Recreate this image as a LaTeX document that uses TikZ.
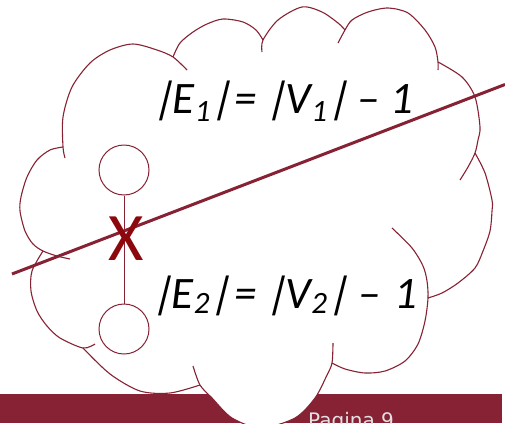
\documentclass[tikz,border=0pt]{standalone}
\usepackage{fontspec}
\newfontfamily\eqfont{Carlito}
\newfontfamily\barfont[FakeSlant=0.25]{Carlito}
\newfontfamily\pagefont{DejaVu Sans}
\definecolor{dred}{RGB}{134,34,52}
\definecolor{xred}{RGB}{140,8,12}
\definecolor{pagegray}{RGB}{225,225,228}
\newcommand\subone[2]{\raisebox{#1}{\fontsize{31}{31}\selectfont #2}}
\newcommand\vbar{{\barfont\upshape |}}
\newcommand\eqpiece[2]{\makebox[#1][l]{#2}}
\newcommand\mydash{\char"2013}
\begin{document}
\begin{tikzpicture}[x=1pt,y=-1pt,
  lobe/.style={draw=dred, line width=1.1pt},
  vert/.style={circle, draw=dred, line width=1pt, minimum size=50pt, inner sep=0pt, fill=white},
  eqtext/.style={font=\eqfont\itshape\fontsize{45}{45}\selectfont, inner sep=0pt, anchor=base west},
  pagetext/.style={font=\pagefont\fontsize{20}{20}\selectfont, text=pagegray, inner sep=0pt, anchor=base west},
  cut/.style={draw=dred, line width=3pt},
  xmark/.style={font=\eqfont\fontsize{68}{68}\selectfont, text=xred, inner sep=0pt}]
\useasboundingbox (0,0) rectangle (505,423);
% bottom bar
\fill[dred] (0,394) rectangle (502,423);
% cloud fill
\fill[white]
  plot[smooth] coordinates {(43,251) (33,244) (25,231) (20,211) (21,197) (27,177) (37,160) (50,150) (63,147)}
  -- plot[smooth] coordinates {(63,147) (63,117) (72,87) (90,63) (110,50) (133,44) (157,50) (173,57)}
  -- plot[smooth] coordinates {(173,57) (180,43) (193,32) (207,24) (223,19) (243,22) (256,30) (263,40)}
  -- plot[smooth] coordinates {(263,40) (278,20) (302,7) (322,12) (338,23) (345,30)}
  -- plot[smooth] coordinates {(345,30) (352,20) (368,12) (388,8) (408,13) (425,30) (435,47) (438,62)}
  -- plot[smooth] coordinates {(438,62) (462,77) (475,97) (480,127) (478,140) (475,153)}
  -- plot[smooth] coordinates {(475,153) (485,173) (492,200) (492,211) (490,231) (483,251) (475,268) (458,283) (442,293) (428,298)}
  -- plot[smooth] coordinates {(428,298) (425,321) (418,344) (405,361) (385,371) (365,373) (345,369) (332,363)}
  -- plot[smooth] coordinates {(332,363) (327,375) (315,398) (295,418) (261,428) (232,418) (212,398) (200,385)}
  -- plot[smooth] coordinates {(200,385) (170,393) (140,391) (110,374) (83,348)}
  -- plot[smooth] coordinates {(83,348) (60,338) (47,326) (37,311) (31,291) (32,271) (43,251)}
  -- cycle;
% cloud lobes with inner arcs
\draw[lobe] plot[smooth] coordinates {(70,259) (57,256) (43,251) (33,244) (25,231) (20,211) (21,197) (27,177) (37,160) (50,150) (63,147)};
\draw[lobe] plot[smooth] coordinates {(65,158) (63,147) (63,117) (72,87) (90,63) (110,50) (133,44) (157,50) (173,57) (187,70)};
\draw[lobe] plot[smooth] coordinates {(173,57) (180,43) (193,32) (207,24) (223,19) (243,22) (256,30) (263,40)};
\draw[lobe] plot[smooth] coordinates {(262,52) (263,40) (278,20) (302,7) (322,12) (338,23) (345,30)};
\draw[lobe] plot[smooth] coordinates {(338,43) (345,30) (352,20) (368,12) (388,8) (408,13) (425,30) (435,47) (438,62) (438,70)};
\draw[lobe] plot[smooth] coordinates {(438,62) (462,77) (475,97) (480,127) (478,140) (475,153) (468,167) (460,180)};
\draw[lobe] plot[smooth] coordinates {(475,153) (485,173) (492,200) (492,211) (490,231) (483,251) (475,268) (458,283) (442,293) (428,298)};
\draw[lobe] plot[smooth] coordinates {(392,228) (412,248) (423,266) (427,281) (428,298) (425,321) (418,344) (405,361) (385,371) (365,373) (345,369) (332,363)};
\draw[lobe] plot[smooth] coordinates {(333,343) (332,363) (327,375) (315,398) (295,418) (261,428) (232,418) (212,398) (200,385) (193,366)};
\draw[lobe] plot[smooth] coordinates {(200,385) (170,393) (140,391) (110,374) (83,348)};
\draw[lobe] plot[smooth] coordinates {(43,251) (32,271) (31,291) (37,311) (47,326) (60,338) (83,348) (95,344)};
% page label
\node[pagetext] (page) at (308,427) {Pagina 9};
% graph: two vertices and an edge
\node[vert] (v1) at (124,170) {};
\node[vert] (v2) at (124,329) {};
\draw[dred, line width=1pt] (v1) -- (v2);
% cutting line
\coordinate (cA) at (12,274);
\coordinate (cB) at (505,84.5);
\draw[cut] (cA) -- (cB);
% cross
\node[xmark] (xm) at (126,239) {X};
% equations
\node[eqtext] (eq1) at (152,113) {\eqpiece{82pt}{\vbar E\subone{-8pt}{1}\vbar}\eqpiece{31pt}{=}\eqpiece{92pt}{\vbar V\subone{-8pt}{1}\vbar}\eqpiece{33pt}{\mydash}1};
\node[eqtext] (eq2) at (151,308) {\eqpiece{83pt}{\vbar E\subone{-5pt}{2}\vbar}\eqpiece{31pt}{=}\eqpiece{93pt}{\vbar V\subone{-5pt}{2}\vbar}\eqpiece{36pt}{\mydash}1};
\end{tikzpicture}
\end{document}
